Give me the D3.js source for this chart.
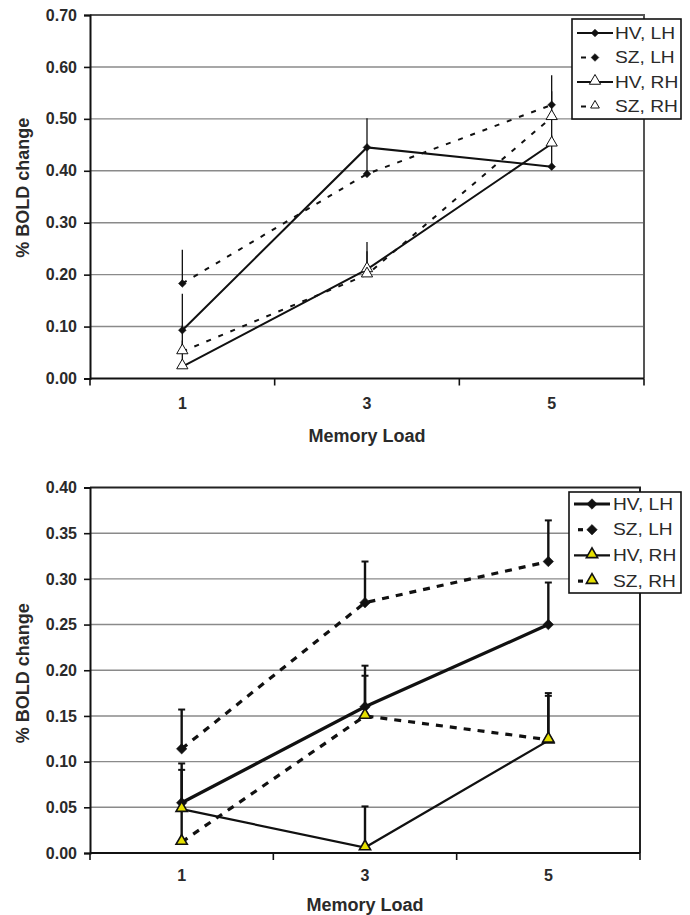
<!DOCTYPE html>
<html>
<head>
<meta charset="utf-8">
<script src="https://cdn.jsdelivr.net/npm/d3@7"></script>
<style>
  html, body { margin: 0; padding: 0; background: #fff; }
  svg { display: block; }
  text { font-family: "Liberation Sans", Arial, sans-serif; fill: #2a2a2a; }
</style>
</head>
<body>
<svg id="chart" width="690" height="915"></svg>
<script>
// ---------- data ----------
const loads = ["1", "3", "5"];
const seriesNames = ["HV, LH", "SZ, LH", "HV, RH", "SZ, RH"];

// top panel
const topTicks = [0, 0.1, 0.2, 0.3, 0.4, 0.5, 0.6, 0.7];
const topHVLH = [0.093, 0.445, 0.408];
const topHVLHErr = [0.07, 0.056, 0.06];
const topSZLH = [0.183, 0.394, 0.527];
const topSZLHErr = [0.065, 0.05, 0.057];
const topHVRH = [0.023, 0.210, 0.452];
const topHVRHErr = [0.05, 0.053, 0.05];
const topSZRH = [0.052, 0.200, 0.503];
const topSZRHErr = [0.05, 0.045, 0.05];

// bottom panel
const botTicks = [0, 0.05, 0.1, 0.15, 0.2, 0.25, 0.3, 0.35, 0.4];
const botHVLH = [0.055, 0.160, 0.250];
const botHVLHErr = [0.043, 0.045, 0.046];
const botSZLH = [0.114, 0.274, 0.319];
const botSZLHErr = [0.043, 0.045, 0.045];
const botHVRH = [0.048, 0.006, 0.123];
const botHVRHErr = [0.043, 0.045, 0.052];
const botSZRH = [0.012, 0.150, 0.124];
const botSZRHErr = [0.035, 0.044, 0.048];

const svg = d3.select("#chart");

function panel(cfg) {
  const { left, right, top, bottom, ticks, yMax, series, legend, yTitleX, style } = cfg;
  const g = svg.append("g");
  const x = d3.scaleBand().domain(loads).range([left, right]).padding(0);
  const y = d3.scaleLinear().domain([0, yMax]).range([bottom, top]);

  // gridlines
  g.append("g").selectAll("line").data(ticks.filter(t => t > 0 && t < yMax - 1e-9)).join("line")
    .attr("x1", left).attr("x2", right)
    .attr("y1", d => y(d)).attr("y2", d => y(d))
    .attr("stroke", "#8a8a8a").attr("stroke-width", 1.4);
  // top & right border
  g.append("path")
    .attr("d", `M${left},${y(yMax)}H${right}V${bottom}`)
    .attr("fill", "none").attr("stroke", style.borderColor).attr("stroke-width", style.borderWidth);

  // y axis
  const yAxis = g.append("g").attr("transform", `translate(${left},0)`)
    .call(d3.axisLeft(y).tickValues(ticks).tickFormat(d3.format(".2f")).tickSize(6).tickPadding(7));
  yAxis.select(".domain").attr("stroke", "#111").attr("stroke-width", 2);
  yAxis.selectAll(".tick line").attr("stroke", "#111").attr("stroke-width", 1.6);
  yAxis.selectAll(".tick text").attr("font-size", 16).attr("font-weight", "bold")
    .attr("fill", "#2a2a2a").attr("font-family", "Liberation Sans, Arial, sans-serif");

  // x axis (ticks at band boundaries)
  const xAxisG = g.append("g").attr("transform", `translate(0,${bottom})`);
  xAxisG.append("line").attr("x1", left).attr("x2", right).attr("y1", 0).attr("y2", 0)
    .attr("stroke", "#111").attr("stroke-width", 2);
  const bounds = loads.map(l => x(l)).concat([x(loads[loads.length - 1]) + x.bandwidth()]);
  xAxisG.selectAll("line.tk").data(bounds).join("line").attr("class", "tk")
    .attr("x1", d => d).attr("x2", d => d).attr("y1", 0).attr("y2", 7)
    .attr("stroke", "#111").attr("stroke-width", 1.6);
  xAxisG.selectAll("text").data(loads).join("text")
    .attr("x", d => x(d) + x.bandwidth() / 2).attr("y", cfg.tickLabelY).attr("dy", "0.36em")
    .attr("text-anchor", "middle").attr("font-size", 16).attr("font-weight", "bold").text(d => d);
  g.append("text").attr("x", (left + right) / 2).attr("y", bottom + cfg.xTitleY).attr("dy", "0.36em")
    .attr("text-anchor", "middle").attr("font-size", 18).attr("font-weight", "bold").text("Memory Load");

  // y title
  g.append("text")
    .attr("transform", `translate(${yTitleX},${(top + bottom) / 2 - cfg.yTitleShift}) rotate(-90)`)
    .attr("text-anchor", "middle").attr("font-size", 18).attr("font-weight", "bold").text("% BOLD change");

  const cx = d => x(d) + x.bandwidth() / 2;

  // error bars
  series.forEach(s => {
    const eg = g.append("g");
    eg.selectAll("line.v").data(loads).join("line").attr("class", "v")
      .attr("x1", cx).attr("x2", cx)
      .attr("y1", (d, i) => y(s.values[i])).attr("y2", (d, i) => y(s.values[i] + s.err[i]))
      .attr("stroke", "#111").attr("stroke-width", style.errWidth);
    if (style.capWidth > 0) {
      eg.selectAll("line.c").data(loads).join("line").attr("class", "c")
        .attr("x1", d => cx(d) - style.capWidth / 2).attr("x2", d => cx(d) + style.capWidth / 2)
        .attr("y1", (d, i) => y(s.values[i] + s.err[i])).attr("y2", (d, i) => y(s.values[i] + s.err[i]))
        .attr("stroke", "#111").attr("stroke-width", 2);
    }
  });

  // lines
  const line = d3.line().x((d, i) => cx(loads[i])).y(d => y(d));
  series.forEach(s => {
    g.append("path").datum(s.values).attr("d", line)
      .attr("fill", "none").attr("stroke", "#111").attr("stroke-width", s.width)
      .attr("stroke-dasharray", s.dash || null);
  });

  // markers
  function drawMarker(sel, s, px, py, scale) {
    const isD = s.marker === "diamond";
    const sym = isD ? d3.symbolSquare : d3.symbolTriangle;
    sel.append("path")
      .attr("d", d3.symbol().type(sym).size(s.size * (scale || 1))())
      .attr("transform", isD ? `translate(${px},${py}) rotate(45)` : `translate(${px},${py - 1})`)
      .attr("fill", s.fill).attr("stroke", "#111").attr("stroke-width", s.mstroke);
  }
  series.forEach(s => {
    loads.forEach((l, i) => drawMarker(g, s, cx(l), y(s.values[i])));
  });

  // legend
  const lg = g.append("g");
  lg.append("rect").attr("x", legend.x).attr("y", legend.y).attr("width", legend.w).attr("height", legend.h)
    .attr("fill", "#fff").attr("stroke", "#111").attr("stroke-width", 1.6);
  series.forEach((s, i) => {
    const ly = legend.y + legend.rowStart + i * legend.rowH;
    const x0 = legend.x + 5, x1 = legend.x + 41, xm = legend.x + 23;
    if (s.dash) {
      lg.append("line").attr("x1", x0 + 4).attr("x2", x0 + 9).attr("y1", ly).attr("y2", ly)
        .attr("stroke", "#111").attr("stroke-width", s.width);
    } else {
      lg.append("line").attr("x1", x0).attr("x2", x1).attr("y1", ly).attr("y2", ly)
        .attr("stroke", "#111").attr("stroke-width", s.width);
    }
    drawMarker(lg, s, xm, ly, s.legendScale);
    lg.append("g").attr("transform", `translate(${legend.x + legend.textX},${ly}) scale(1.2,1)`)
      .append("text").attr("x", 0).attr("y", 0).attr("dy", "0.36em")
      .attr("font-size", 16).attr("fill", "#2a2a2a").text(s.name);
  });
}

// ---------- top panel ----------
panel({
  left: 90, right: 644, top: 15, bottom: 378.5, ticks: topTicks, yMax: 0.7,
  yTitleX: 29, yTitleShift: 9, tickLabelY: 25, xTitleY: 57,
  style: { errWidth: 1.3, capWidth: 0, borderColor: "#555", borderWidth: 2 },
  legend: { x: 572, y: 19, w: 109, h: 100, rowStart: 14, rowH: 24.5, textX: 43 },
  series: [
    { name: seriesNames[0], values: topHVLH, err: topHVLHErr, width: 2, dash: null, marker: "diamond", size: 30, fill: "#111", mstroke: 0.5 },
    { name: seriesNames[1], values: topSZLH, err: topSZLHErr, width: 2, dash: "5,8", marker: "diamond", size: 30, fill: "#111", mstroke: 0.5 },
    { name: seriesNames[2], values: topHVRH, err: topHVRHErr, width: 2, dash: null, marker: "triangle", size: 55, fill: "#fff", mstroke: 1 },
    { name: seriesNames[3], values: topSZRH, err: topSZRHErr, width: 2, dash: "5,8", marker: "triangle", size: 55, fill: "#fff", mstroke: 1, legendScale: 0.6 }
  ]
});

// ---------- bottom panel ----------
panel({
  left: 90, right: 640, top: 487.5, bottom: 853, ticks: botTicks, yMax: 0.4,
  yTitleX: 29, yTitleShift: -3, tickLabelY: 22, xTitleY: 52,
  style: { errWidth: 2.4, capWidth: 7, borderColor: "#222", borderWidth: 2 },
  legend: { x: 569, y: 492, w: 112, h: 101, rowStart: 12, rowH: 25.7, textX: 44 },
  series: [
    { name: seriesNames[0], values: botHVLH, err: botHVLHErr, width: 3.2, dash: null, marker: "diamond", size: 55, fill: "#111", mstroke: 0.5 },
    { name: seriesNames[1], values: botSZLH, err: botSZLHErr, width: 3.2, dash: "7,7", marker: "diamond", size: 55, fill: "#111", mstroke: 0.5 },
    { name: seriesNames[2], values: botHVRH, err: botHVRHErr, width: 2.2, dash: null, marker: "triangle", size: 55, fill: "#e6e000", mstroke: 1.6 },
    { name: seriesNames[3], values: botSZRH, err: botSZRHErr, width: 3.2, dash: "7,7", marker: "triangle", size: 55, fill: "#e6e000", mstroke: 1.6 }
  ]
});
</script>
</body>
</html>
